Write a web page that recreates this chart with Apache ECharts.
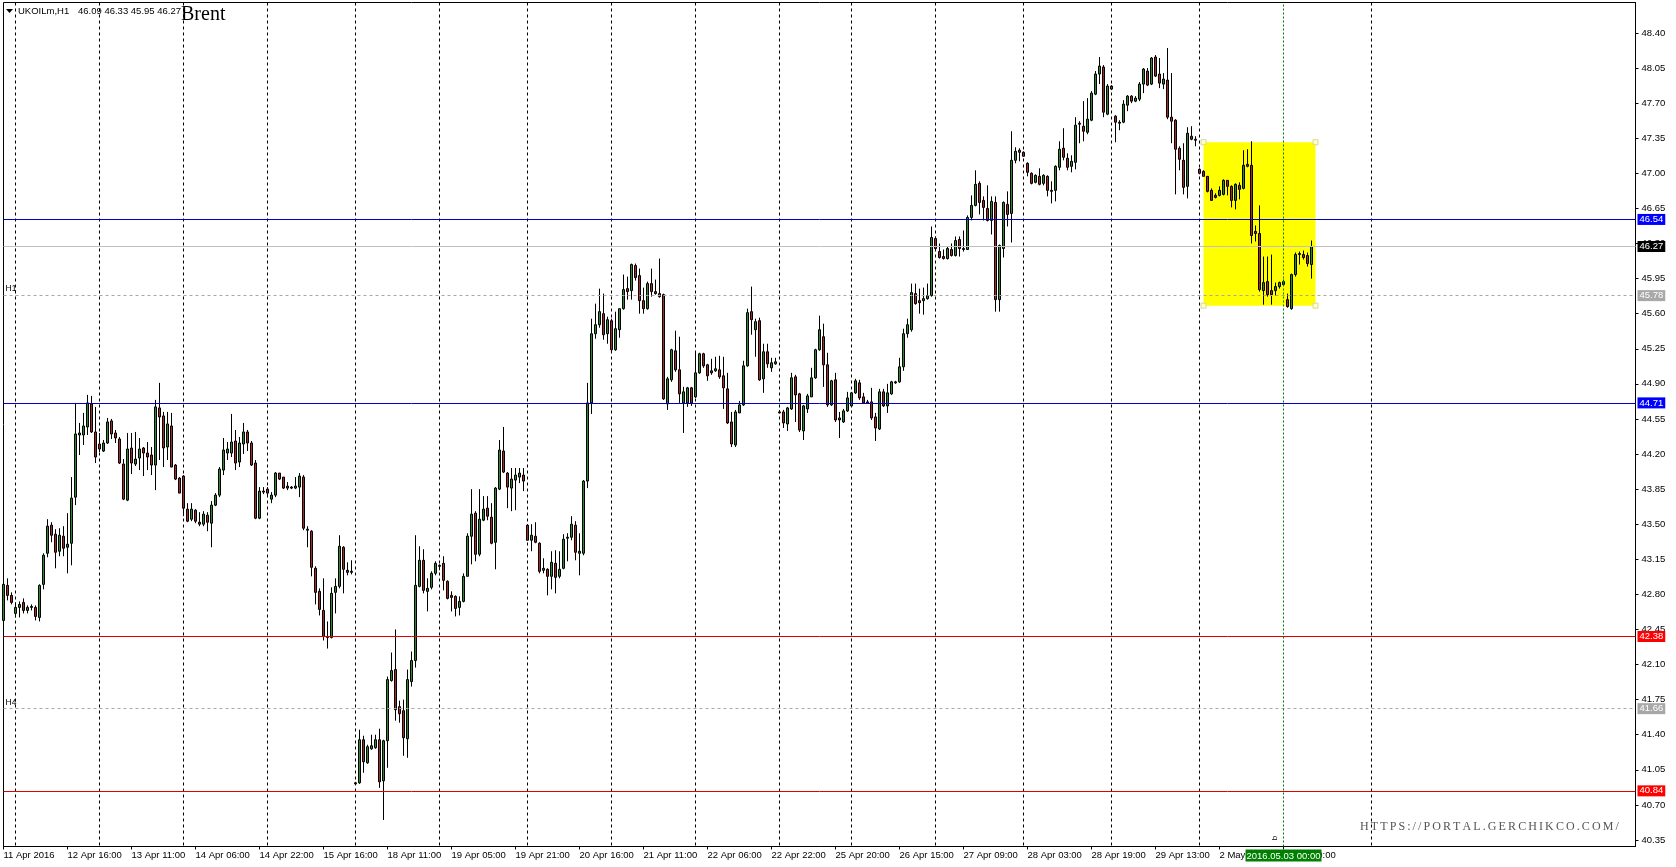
<!DOCTYPE html>
<html><head><meta charset="utf-8">
<script src="https://cdn.jsdelivr.net/npm/echarts@6/dist/echarts.min.js"></script>
<style>html,body{margin:0;padding:0;background:#fff}#c{width:1676px;height:867px}</style>
</head><body><div id="c"></div>
<script>
// ---- DATA ----
// hourly candles, ECharts order: [open, close, low, high]
const candles = [
[42.54,42.90,42.53,42.93],[42.89,42.79,42.74,42.96],[42.79,42.72,42.70,42.82],[42.61,42.67,42.57,42.72],[42.67,42.70,42.57,42.73],
[42.72,42.64,42.61,42.76],[42.64,42.67,42.61,42.69],[42.67,42.68,42.64,42.70],[42.67,42.58,42.54,42.69],[42.57,42.89,42.53,42.90],
[42.90,43.19,42.85,43.21],[43.21,43.48,43.17,43.55],[43.49,43.39,43.32,43.52],[43.40,43.22,43.06,43.45],[43.23,43.39,43.18,43.46],
[43.38,43.26,43.18,43.48],[43.27,43.30,43.01,43.61],[43.31,43.76,43.09,43.97],[43.77,44.40,43.69,44.71],[44.39,44.41,44.19,44.51],
[44.39,44.48,44.29,44.61],[44.47,44.71,44.39,44.79],[44.70,44.42,44.41,44.78],[44.42,44.17,44.11,44.67],[44.30,44.25,44.22,44.41],
[44.23,44.31,44.22,44.34],[44.31,44.52,44.30,44.56],[44.53,44.40,44.35,44.55],[44.41,44.36,44.31,44.44],[44.35,44.11,44.10,44.37],
[44.10,43.75,43.74,44.15],[43.74,44.25,43.73,44.41],[44.26,44.11,44.00,44.41],[44.10,44.15,44.08,44.42],[44.16,44.25,44.04,44.36],
[44.26,44.21,43.98,44.27],[44.21,44.17,44.04,44.32],[44.19,44.09,43.99,44.27],[44.09,44.67,43.84,44.74],[44.66,44.57,44.14,44.91],
[44.58,44.26,44.07,44.62],[44.27,44.50,44.14,44.62],[44.48,44.07,44.07,44.61],[44.09,43.95,43.94,44.10],[43.96,43.81,43.81,43.97],
[43.98,43.66,43.58,43.99],[43.65,43.53,43.52,43.71],[43.55,43.65,43.53,43.71],[43.64,43.53,43.51,43.65],[43.52,43.50,43.48,43.62],
[43.50,43.60,43.48,43.63],[43.59,43.52,43.43,43.62],[43.51,43.69,43.27,43.73],[43.69,43.79,43.68,43.81],[43.79,44.05,43.77,44.07],
[44.04,44.24,43.99,44.36],[44.21,44.25,44.14,44.32],[44.21,44.32,44.17,44.60],[44.33,44.11,44.04,44.44],[44.12,44.31,44.07,44.37],
[44.30,44.42,44.20,44.51],[44.42,44.31,44.23,44.44],[44.31,44.09,44.08,44.33],[44.11,43.56,43.55,44.14],[43.56,43.83,43.55,43.87],
[43.83,43.82,43.80,43.87],[43.85,43.81,43.78,43.87],[43.75,43.79,43.71,43.82],[43.79,44.01,43.77,44.02],[44.01,43.95,43.94,44.01],
[43.97,43.86,43.85,43.97],[43.88,43.86,43.84,43.92],[43.87,43.86,43.85,43.88],[43.86,43.88,43.85,43.97],[43.87,43.98,43.77,44.01],
[43.97,43.46,43.44,43.99],[43.45,43.44,43.27,43.48],[43.43,43.07,42.98,43.44],[43.06,42.82,42.70,43.08],[42.83,42.65,42.59,42.86],
[42.64,42.38,42.34,42.96],[42.38,42.37,42.26,42.53],[42.37,42.81,42.36,42.87],[42.82,42.88,42.61,42.96],[42.88,43.28,42.86,43.39],
[43.27,43.05,42.81,43.28],[43.04,43.02,42.99,43.12],[43.02,43.03,43.00,43.14],[40.92,40.91,40.90,40.93],[40.92,41.35,40.91,41.45],
[41.35,41.13,41.02,41.39],[41.12,41.28,41.11,41.30],[41.26,41.29,41.25,41.40],[41.27,41.35,41.26,41.40],[41.35,40.93,40.87,41.46],
[40.94,41.34,40.55,41.35],[41.34,41.95,41.07,41.98],[41.94,42.04,41.93,42.22],[42.05,41.65,41.54,42.45],[41.68,41.61,41.52,41.74],
[41.64,41.37,41.19,41.75],[41.36,41.95,41.17,42.05],[41.93,42.14,41.88,42.23],[42.14,42.89,42.07,43.39],[42.88,43.14,42.87,43.28],
[43.14,42.84,42.81,43.25],[42.83,42.86,42.63,42.96],[42.87,43.01,42.85,43.03],[43.01,43.11,42.99,43.13],[43.08,43.09,43.04,43.10],
[43.11,42.94,42.84,43.18],[42.93,42.76,42.75,42.94],[42.79,42.77,42.63,42.83],[42.78,42.66,42.58,42.79],[42.67,42.73,42.59,42.78],
[42.73,42.98,42.72,43.01],[42.98,43.38,42.98,43.41],[43.38,43.60,43.10,43.85],[43.61,43.20,43.13,43.63],[43.20,43.55,43.18,43.85],
[43.54,43.65,43.53,43.78],[43.66,43.58,43.54,43.78],[43.57,43.31,43.30,43.71],[43.32,43.86,43.05,43.87],[43.85,44.24,43.84,44.34],
[44.23,44.02,44.01,44.47],[44.01,43.87,43.66,44.02],[43.86,43.95,43.63,44.06],[43.94,43.99,43.64,44.06],[43.97,44.01,43.91,44.06],
[43.99,43.93,43.83,44.06],[43.49,43.34,43.34,43.50],[43.34,43.39,43.23,43.50],[43.38,43.32,43.31,43.52],[43.31,43.03,43.01,43.32],
[43.04,43.06,43.01,43.16],[43.05,42.98,42.79,43.06],[42.98,43.12,42.85,43.23],[43.11,42.97,42.81,43.24],[42.98,43.05,42.96,43.23],
[43.06,43.35,43.05,43.40],[43.36,43.37,43.13,43.41],[43.37,43.50,43.34,43.58],[43.49,43.22,43.14,43.53],[43.21,43.23,42.99,43.41],
[43.21,43.93,43.19,43.94],[43.93,44.71,43.86,44.91],[44.71,45.40,44.60,45.55],[45.40,45.49,45.35,45.70],[45.49,45.62,45.46,45.85],
[45.60,45.39,45.34,45.80],[45.40,45.54,45.30,45.57],[45.53,45.24,45.22,45.55],[45.24,45.45,45.23,45.62],[45.44,45.65,45.36,45.65],
[45.65,45.84,45.64,45.99],[45.85,45.82,45.74,45.97],[45.83,46.09,45.74,46.10],[46.08,45.96,45.93,46.10],[45.98,45.73,45.60,46.05],
[45.73,45.65,45.60,45.86],[45.65,45.90,45.64,45.92],[45.90,45.82,45.77,46.05],[45.82,45.80,45.79,45.94],[45.80,45.77,45.76,46.15],
[45.79,44.75,44.74,45.80],[44.70,44.95,44.64,44.97],[44.94,45.24,44.92,45.25],[45.23,45.04,45.02,45.43],[45.04,44.80,44.71,45.37],
[44.71,44.82,44.41,44.87],[44.71,44.86,44.67,44.87],[44.86,44.71,44.68,44.87],[44.77,45.01,44.76,45.21],[45.01,45.20,45.00,45.21],
[45.20,45.08,45.06,45.21],[45.09,44.98,44.93,45.10],[45.03,45.01,44.99,45.15],[45.03,45.05,45.02,45.17],[45.04,44.97,44.95,45.18],
[44.98,44.86,44.65,45.17],[44.85,44.51,44.50,45.01],[44.52,44.30,44.27,44.62],[44.29,44.62,44.27,44.64],[44.61,44.69,44.61,44.73],
[44.69,45.08,44.68,45.13],[45.08,45.61,45.07,45.65],[45.62,45.54,45.39,45.87],[45.44,45.52,45.17,45.55],[45.53,44.94,44.93,45.56],
[44.95,45.22,44.81,45.30],[45.22,45.10,45.06,45.30],[45.06,45.11,45.02,45.16],[45.10,45.12,45.09,45.16],[44.61,44.62,44.61,44.64],
[44.62,44.51,44.46,44.64],[44.50,44.66,44.43,44.67],[44.65,44.96,44.64,45.01],[44.97,44.79,44.52,44.99],[44.80,44.44,44.42,44.81],
[44.43,44.68,44.34,44.69],[44.65,44.78,44.61,44.80],[44.77,44.96,44.77,45.06],[44.96,45.24,44.95,45.25],[45.24,45.44,45.23,45.58],
[45.37,45.09,44.87,45.50],[45.09,44.69,44.67,45.21],[44.69,44.93,44.68,44.94],[44.94,44.54,44.52,45.01],[44.56,44.54,44.36,44.62],
[44.52,44.63,44.51,44.65],[44.63,44.76,44.62,44.82],[44.68,44.81,44.67,44.82],[44.81,44.93,44.80,44.95],[44.91,44.76,44.74,44.94],
[44.77,44.71,44.70,44.81],[44.72,44.71,44.70,44.74],[44.72,44.56,44.54,44.86],[44.57,44.46,44.33,44.61],[44.45,44.82,44.44,44.85],
[44.82,44.68,44.67,44.85],[44.68,44.81,44.61,44.90],[44.80,44.92,44.79,44.93],[44.91,44.92,44.90,44.93],[44.92,45.07,44.91,45.16],
[45.07,45.40,45.03,45.45],[45.40,45.49,45.36,45.55],[45.44,45.81,45.42,45.90],[45.80,45.70,45.69,45.90],[45.73,45.71,45.60,45.85],
[45.73,45.75,45.59,45.86],[45.75,45.78,45.74,45.90],[45.78,46.36,45.77,46.47],[46.35,46.25,46.24,46.37],[46.22,46.16,46.15,46.30],
[46.17,46.15,46.14,46.24],[46.15,46.25,46.14,46.27],[46.24,46.18,46.17,46.30],[46.18,46.33,46.17,46.37],[46.34,46.25,46.17,46.37],
[46.25,46.24,46.22,46.43],[46.24,46.56,46.24,46.58],[46.56,46.68,46.53,46.78],[46.68,46.89,46.67,47.03],[46.90,46.71,46.59,46.92],
[46.73,46.66,46.53,46.77],[46.65,46.53,46.52,46.88],[46.53,46.72,46.39,46.77],[46.71,45.74,45.62,46.77],[45.74,46.28,45.62,46.29],
[46.25,46.71,46.16,46.72],[46.69,46.59,46.47,46.82],[46.60,47.13,46.31,47.42],[47.13,47.22,47.10,47.26],[47.21,47.23,47.12,47.25],
[47.21,47.17,47.17,47.22],[47.10,47.01,46.97,47.11],[47.00,46.90,46.89,47.01],[46.91,46.98,46.90,46.99],[46.97,46.89,46.88,47.05],
[46.90,46.98,46.88,46.99],[46.97,46.83,46.77,46.98],[46.83,46.82,46.70,46.92],[46.83,47.07,46.72,47.08],[47.06,47.24,47.03,47.32],
[47.25,47.16,47.13,47.45],[47.15,47.06,47.03,47.20],[47.07,47.12,47.01,47.18],[47.11,47.48,47.04,47.56],[47.49,47.50,47.30,47.52],
[47.47,47.42,47.32,47.72],[47.41,47.54,47.39,47.75],[47.53,47.80,47.52,47.82],[47.79,47.99,47.78,48.02],[47.99,48.07,47.89,48.16],
[48.06,47.61,47.56,48.08],[47.59,47.87,47.58,47.89],[47.87,47.84,47.83,47.88],[47.57,47.51,47.31,47.58],[47.51,47.50,47.43,47.53],
[47.51,47.69,47.50,47.73],[47.68,47.77,47.62,47.78],[47.77,47.72,47.70,47.78],[47.72,47.75,47.71,47.77],[47.74,47.89,47.72,47.91],
[47.89,48.04,47.80,48.05],[48.02,47.88,47.87,48.05],[47.89,48.15,47.88,48.16],[48.16,47.97,47.96,48.18],[47.99,47.90,47.85,48.15],
[47.89,47.94,47.84,48.00],[47.93,47.56,47.54,48.25],[47.56,47.52,47.30,48.00],[47.53,47.24,46.79,47.54],[47.25,47.14,47.03,47.27],
[47.13,46.86,46.79,47.30],[46.87,47.40,46.75,47.46],[47.37,47.34,47.33,47.47],[47.34,47.33,47.27,47.37],[47.04,47.00,46.99,47.05],
[47.02,46.97,46.97,47.03],[46.97,46.82,46.81,46.97],[46.83,46.73,46.73,46.85],[46.78,46.76,46.75,46.80],[46.78,46.83,46.77,46.87],
[46.79,46.93,46.78,46.94],[46.93,46.87,46.78,46.93],[46.87,46.73,46.66,46.88],[46.73,46.89,46.64,46.90],[46.88,46.84,46.74,46.91],
[46.85,47.08,46.84,47.23],[47.09,47.07,47.06,47.24],[47.08,46.38,46.30,47.32],[46.42,46.40,46.32,46.48],[46.40,45.84,45.82,46.68],
[45.83,45.91,45.69,46.17],[45.92,45.79,45.77,46.17],[45.83,45.79,45.69,46.19],[45.83,45.87,45.78,45.91],[45.87,45.91,45.85,45.92],
[45.89,45.92,45.88,45.94],[45.74,45.67,45.66,45.80],[45.65,45.99,45.64,46.00],[45.99,46.19,45.97,46.21],[46.19,46.20,46.09,46.22],
[46.19,46.16,46.14,46.23],[46.18,46.10,46.07,46.21],[46.09,46.27,45.95,46.33]
];

// time axis labels: bar index -> text
const timeLabelBars  = [0,16,32,48,64,80,96,112,128,144,160,176,192,208,224,240,256,272,288,304,320];
const timeLabelTexts = ['11 Apr 2016','12 Apr 16:00','13 Apr 11:00','14 Apr 06:00','14 Apr 22:00','15 Apr 16:00',
  '18 Apr 11:00','19 Apr 05:00','19 Apr 21:00','20 Apr 16:00','21 Apr 11:00','22 Apr 06:00','22 Apr 22:00',
  '25 Apr 20:00','26 Apr 15:00','27 Apr 09:00','28 Apr 03:00','28 Apr 19:00','29 Apr 13:00','2 May 08:00','3 May 00:00'];
// day-separator grid lines (bar index)
const dayStartBars = [3,24,45,66,88,109,131,152,173,194,212,233,255,277,299,342];
// price scale ticks
const priceTicks = [48.40,48.05,47.70,47.35,47.00,46.65,46.30,45.95,45.60,45.25,44.90,44.55,44.20,43.85,43.50,43.15,42.80,42.45,42.10,41.75,41.40,41.05,40.70,40.35];
// horizontal levels
const blueLevels = [46.54, 44.71];
const redLevels = [42.38, 40.84];
const bidLevel = [46.27];
const tfLevels = [45.78, 41.66];
const tfNames = ['H1', 'H4'];
// highlighted box
const boxBars = [300, 328];
const boxPrices = [47.31, 45.68];
// vertical marker
const markerBar = [320];
const markerText = ['2016.05.03 00:00'];
const headerSymbol = ['UKOILm,H1'];
const headerOHLC = ['46.09 46.33 45.95 46.27'];
const titleText = ['Brent'];
const watermark = ['HTTPS://PORTAL.GERCHIKCO.COM/'];

// ---- CHART ----
const SLOT_COUNT = 409;
const Y_MIN = 40.285, Y_MAX = 48.704;
const slots = [];
for (let i = 0; i < SLOT_COUNT; i++) slots.push(String(i));
const labelMap = {};
timeLabelBars.forEach((b, k) => labelMap[b] = timeLabelTexts[k]);
const daySet = new Set(dayStartBars);
const FONT = 'Liberation Sans';

function tagLine(p, lineColor, bg, fg, type) {
  return {
    yAxis: p,
    lineStyle: { color: lineColor, width: 1, type: type },
    label: { show: true, position: 'end', distance: 2, formatter: p.toFixed(2),
      backgroundColor: bg, color: fg, padding: [1, 2, 0, 2], fontSize: 9.5, lineHeight: 10, fontFamily: FONT }
  };
}
const mlData = [];
blueLevels.forEach(p => mlData.push(tagLine(p, '#0000c8', '#0000ff', '#ffffff', 'solid')));
redLevels.forEach(p => mlData.push(tagLine(p, '#e00000', '#ff0000', '#ffffff', 'solid')));
bidLevel.forEach(p => mlData.push(tagLine(p, '#c0c0c0', '#000000', '#ffffff', 'solid')));
tfLevels.forEach((p, k) => {
  mlData.push(tagLine(p, '#a8a8a8', '#a8a8a8', '#ffffff', [3, 3]));
  mlData.push({ yAxis: p, lineStyle: { color: 'rgba(0,0,0,0)', width: 1 },
    label: { show: true, position: 'insideStartTop', distance: [2, 2], formatter: tfNames[k],
      color: '#000000', fontSize: 8.5, fontFamily: FONT } });
});
markerBar.forEach((b, k) => {
  mlData.push([
    { xAxis: b, yAxis: Y_MIN, lineStyle: { color: '#008000', width: 1, type: [2, 2] },
      label: { show: true, position: 'start', distance: 3, formatter: markerText[k],
        backgroundColor: '#008000', color: '#ffffff', padding: [1, 1, 0, 1], fontSize: 9.5, lineHeight: 11, fontFamily: FONT } },
    { xAxis: b, yAxis: Y_MAX }
  ]);
});

const corners = [[boxBars[0], boxPrices[0]], [boxBars[1], boxPrices[0]], [boxBars[0], boxPrices[1]], [boxBars[1], boxPrices[1]]];

// watermark glyph layout (letter-spaced)
const wmFont = '12px "Liberation Serif"';
const mctx = document.createElement('canvas').getContext('2d');
mctx.font = wmFont;
const wmEls = [];
let wx = 1360;
for (const ch of watermark[0]) {
  wmEls.push({ type: 'text', x: wx, y: 827, silent: true,
    style: { text: ch, font: wmFont, fill: '#555555', textAlign: 'left', textVerticalAlign: 'middle' } });
  wx += mctx.measureText(ch).width + 2.1;
}

const chart = echarts.init(document.getElementById('c'), null, { renderer: 'canvas' });
chart.setOption({
  animation: false,
  backgroundColor: '#ffffff',
  grid: { left: 3.5, top: 2.5, width: 1632, height: 844, show: true, borderColor: '#000', borderWidth: 1,
    backgroundColor: '#ffffff', containLabel: false, outerBoundsMode: 'none' },
  xAxis: {
    type: 'category', data: slots, boundaryGap: false,
    axisLine: { show: true, lineStyle: { color: '#000', width: 1 } },
    axisTick: { show: true, interval: (i) => labelMap[i] !== undefined, length: 3, lineStyle: { color: '#000' } },
    axisLabel: { show: true, interval: (i) => labelMap[i] !== undefined, formatter: (v, i) => labelMap[i] || '',
      align: 'left', margin: 4, fontSize: 9.5, color: '#000', fontFamily: FONT },
    splitLine: { show: true, interval: (i) => daySet.has(i), lineStyle: { color: '#000', width: 1, type: [3, 3] } }
  },
  yAxis: {
    type: 'value', position: 'right', min: Y_MIN, max: Y_MAX, scale: true,
    axisLine: { show: true, lineStyle: { color: '#000', width: 1 } },
    axisTick: { show: true, length: 3, customValues: priceTicks, lineStyle: { color: '#000' } },
    axisLabel: { show: true, customValues: priceTicks, formatter: (v) => v.toFixed(2), margin: 6,
      fontSize: 9.5, color: '#000', fontFamily: FONT },
    splitLine: { show: false }
  },
  series: [{
    type: 'candlestick',
    data: candles,
    barWidth: 2,
    clip: false,
    silent: true,
    itemStyle: { color: '#2a8a2a', color0: '#a82828', borderColor: '#000', borderColor0: '#000', borderWidth: 1 },
    markArea: {
      silent: true, z: 1,
      itemStyle: { color: '#ffff00', opacity: 1, borderWidth: 0 },
      data: [[{ xAxis: boxBars[0], yAxis: boxPrices[0] }, { xAxis: boxBars[1], yAxis: boxPrices[1] }]]
    },
    markLine: { silent: true, z: 5, symbol: ['none', 'none'], animation: false, data: mlData },
    markPoint: {
      silent: true, z: 5, symbol: 'rect', symbolSize: 5,
      itemStyle: { color: '#ffffd0', borderColor: '#d8d890', borderWidth: 1 },
      label: { show: false },
      data: corners.map(c => ({ coord: c }))
    }
  }],
  graphic: [
    { type: 'polygon', silent: true, shape: { points: [[6, 9], [13, 9], [9.5, 13]] }, style: { fill: '#000' } },
    { type: 'text', x: 18, y: 11, silent: true, style: { text: headerSymbol[0], font: '9.5px "Liberation Sans"', fill: '#000', textAlign: 'left', textVerticalAlign: 'middle' } },
    { type: 'text', x: 78, y: 11, silent: true, style: { text: headerOHLC[0], font: '9.5px "Liberation Sans"', fill: '#000', textAlign: 'left', textVerticalAlign: 'middle' } },
    { type: 'text', x: 181, y: 15, silent: true, style: { text: titleText[0], font: '20px "Liberation Serif"', fill: '#000', textAlign: 'left', textVerticalAlign: 'middle' } },
    { type: 'text', x: 1275, y: 838, rotation: Math.PI / 2, silent: true, style: { text: 'b', font: '8px "Liberation Sans"', fill: '#000', textAlign: 'center', textVerticalAlign: 'middle' } }
  ].concat(wmEls)
});
</script>
</body></html>
